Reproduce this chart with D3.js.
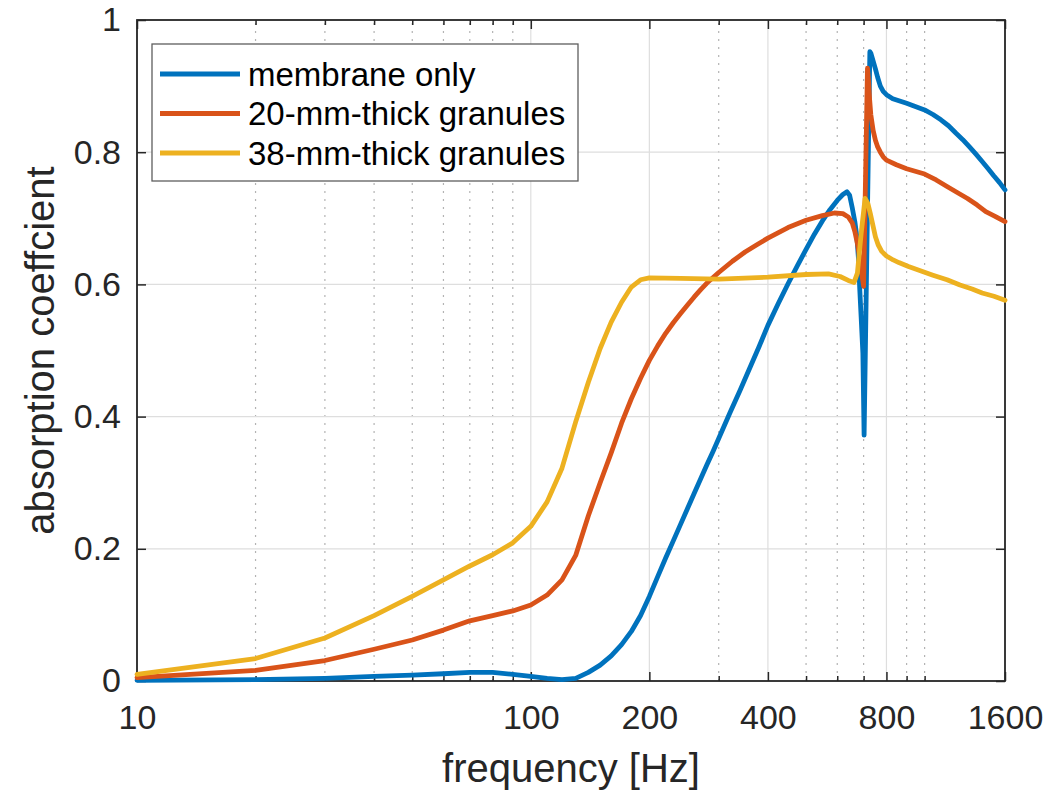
<!DOCTYPE html>
<html>
<head>
<meta charset="utf-8">
<script src="https://cdn.jsdelivr.net/npm/d3@7"></script>
<style>
  body { margin: 0; background: #fff; }
  text { font-family: "Liberation Sans", Arial, Helvetica, sans-serif; }
</style>
</head>
<body>
<div id="chart"></div>
<script>
// membrane only
const freqMembrane = [10, 20, 30, 40, 50, 60, 70, 80, 90, 100, 110, 120, 130, 140, 150, 160, 170, 180, 190, 200,
  210, 220, 230, 240, 250, 260, 270, 280, 290, 300, 320, 340, 360, 380, 400, 425, 450, 475, 500, 525,
  550, 575, 600, 620, 635, 645, 655, 665, 673, 680, 684, 690, 697, 702, 726, 730, 740, 750, 760, 772,
  785, 800, 830, 900, 1000, 1050, 1100, 1150, 1200, 1250, 1300, 1350, 1400, 1450, 1500, 1550, 1600];
const alphaMembrane = [0.001, 0.002, 0.004, 0.007, 0.009, 0.011, 0.013, 0.013, 0.010, 0.007, 0.004, 0.002, 0.004, 0.013, 0.024, 0.038, 0.055, 0.075, 0.099, 0.128,
  0.158, 0.186, 0.212, 0.237, 0.261, 0.284, 0.306, 0.327, 0.347, 0.367, 0.405, 0.440, 0.474, 0.506, 0.538, 0.571, 0.601, 0.628, 0.653, 0.676,
  0.696, 0.713, 0.727, 0.736, 0.740, 0.735, 0.716, 0.695, 0.672, 0.635, 0.596, 0.550, 0.496, 0.372, 0.952, 0.950, 0.938, 0.926, 0.913, 0.900,
  0.892, 0.887, 0.881, 0.874, 0.864, 0.857, 0.849, 0.840, 0.829, 0.819, 0.808, 0.797, 0.786, 0.775, 0.764, 0.754, 0.743];

// 20-mm-thick granules
const freq20mm = [10, 20, 30, 40, 50, 60, 70, 80, 90, 100, 110, 120, 130, 140, 150, 160, 170, 180, 190, 200,
  210, 220, 230, 240, 250, 260, 270, 280, 300, 325, 350, 375, 400, 450, 500, 550, 590, 620, 640, 655,
  665, 675, 685, 693, 700, 716, 720, 725, 730, 740, 750, 760, 772, 785, 800, 848, 900, 1000, 1070, 1140,
  1210, 1285, 1360, 1430, 1510, 1600];
const alpha20mm = [0.005, 0.016, 0.031, 0.048, 0.062, 0.077, 0.091, 0.099, 0.106, 0.115, 0.130, 0.153, 0.190, 0.250, 0.300, 0.345, 0.390, 0.427, 0.458, 0.485,
  0.507, 0.526, 0.542, 0.556, 0.569, 0.581, 0.592, 0.602, 0.618, 0.635, 0.649, 0.660, 0.670, 0.686, 0.697, 0.704, 0.708, 0.707, 0.702, 0.693,
  0.680, 0.662, 0.638, 0.615, 0.597, 0.927, 0.910, 0.880, 0.857, 0.833, 0.818, 0.808, 0.800, 0.793, 0.788, 0.781, 0.775, 0.767, 0.758, 0.748,
  0.739, 0.730, 0.720, 0.710, 0.703, 0.695];

// 38-mm-thick granules
const freq38mm = [10, 20, 30, 40, 50, 60, 70, 80, 90, 100, 110, 120, 130, 140, 150, 160, 170, 180, 190, 200,
  240, 300, 400, 500, 570, 610, 640, 662, 675, 690, 706, 718, 728, 740, 750, 762, 778, 800, 832, 860,
  910, 1050, 1140, 1230, 1320, 1400, 1500, 1600];
const alpha38mm = [0.010, 0.034, 0.065, 0.099, 0.128, 0.153, 0.174, 0.191, 0.209, 0.234, 0.271, 0.322, 0.392, 0.452, 0.503, 0.543, 0.573, 0.596, 0.607, 0.610,
  0.609, 0.608, 0.611, 0.615, 0.616, 0.612, 0.606, 0.603, 0.617, 0.677, 0.730, 0.722, 0.707, 0.688, 0.672, 0.660, 0.650, 0.643, 0.637, 0.633,
  0.627, 0.614, 0.607, 0.599, 0.593, 0.587, 0.582, 0.576];

const seriesNames = ['membrane only', '20-mm-thick granules', '38-mm-thick granules'];
const seriesColors = ['#0072BD', '#D95319', '#EDB120'];
const xTickValues = [10, 100, 200, 400, 800, 1600];
const yTickValues = [0, 0.2, 0.4, 0.6, 0.8, 1];

const width = 1064, height = 795;
const margin = { top: 20, right: 59, bottom: 114, left: 137 };
const axisColor = '#262626';

const svg = d3.select('#chart')
  .append('svg')
    .attr('width', width)
    .attr('height', height);

const x = d3.scaleLog()
  .domain([10, 1600])
  .range([margin.left, width - margin.right]);

const y = d3.scaleLinear()
  .domain([0, 1])
  .range([height - margin.bottom, margin.top]);

const x0 = x.range()[0], x1 = x.range()[1];
const y0 = y.range()[0], y1 = y.range()[1];

const minorTicks = x.ticks().filter(t => !xTickValues.includes(t));

// grid
const grid = svg.append('g');
grid.selectAll('.minor')
  .data(minorTicks)
  .enter().append('line')
    .attr('x1', d => x(d)).attr('x2', d => x(d))
    .attr('y1', y0).attr('y2', y1)
    .attr('stroke', '#b3b3b3')
    .attr('stroke-width', 1.2)
    .attr('stroke-dasharray', '2,6');
grid.selectAll('.vmajor')
  .data(xTickValues)
  .enter().append('line')
    .attr('x1', d => x(d)).attr('x2', d => x(d))
    .attr('y1', y0).attr('y2', y1)
    .attr('stroke', '#dedede')
    .attr('stroke-width', 1.2);
grid.selectAll('.hmajor')
  .data(yTickValues)
  .enter().append('line')
    .attr('x1', x0).attr('x2', x1)
    .attr('y1', d => y(d)).attr('y2', d => y(d))
    .attr('stroke', '#dedede')
    .attr('stroke-width', 1.2);

// axes
const styleAxis = (g) => {
  g.select('.domain').remove();
  g.selectAll('.tick line').attr('stroke', axisColor).attr('stroke-width', 1.5);
  g.selectAll('.tick text')
    .attr('fill', axisColor)
    .attr('font-size', 34);
};

svg.append('g')
  .attr('transform', `translate(0,${y0})`)
  .call(d3.axisBottom(x).tickValues(xTickValues).tickFormat(d3.format('d'))
    .tickSizeInner(-9).tickSizeOuter(0).tickPadding(24))
  .call(styleAxis);

svg.append('g')
  .attr('transform', `translate(0,${y0})`)
  .call(d3.axisBottom(x).tickValues(minorTicks).tickFormat('')
    .tickSizeInner(-5).tickSizeOuter(0))
  .call(styleAxis);

svg.append('g')
  .attr('transform', `translate(0,${y1})`)
  .call(d3.axisTop(x).tickValues(xTickValues).tickFormat('')
    .tickSizeInner(-9).tickSizeOuter(0))
  .call(styleAxis);

svg.append('g')
  .attr('transform', `translate(0,${y1})`)
  .call(d3.axisTop(x).tickValues(minorTicks).tickFormat('')
    .tickSizeInner(-5).tickSizeOuter(0))
  .call(styleAxis);

svg.append('g')
  .attr('transform', `translate(${x0},0)`)
  .call(d3.axisLeft(y).tickValues(yTickValues).tickFormat(d3.format('~g'))
    .tickSizeInner(-9).tickSizeOuter(0).tickPadding(16))
  .call(styleAxis);

svg.append('g')
  .attr('transform', `translate(${x1},0)`)
  .call(d3.axisRight(y).tickValues(yTickValues).tickFormat('')
    .tickSizeInner(-9).tickSizeOuter(0))
  .call(styleAxis);

svg.append('rect')
  .attr('x', x0).attr('y', y1)
  .attr('width', x1 - x0).attr('height', y0 - y1)
  .attr('fill', 'none')
  .attr('stroke', axisColor)
  .attr('stroke-width', 1.8);

// curves
const series = [
  { freq: freqMembrane, alpha: alphaMembrane },
  { freq: freq20mm, alpha: alpha20mm },
  { freq: freq38mm, alpha: alpha38mm },
].map((s, i) => ({
  name: seriesNames[i],
  color: seriesColors[i],
  values: s.freq.map((f, j) => ({ f, a: s.alpha[j] })),
}));

const line = d3.line()
  .x(d => x(d.f))
  .y(d => y(d.a));

svg.selectAll('.curve')
  .data(series)
  .enter().append('path')
    .attr('class', 'curve')
    .attr('d', d => line(d.values))
    .attr('fill', 'none')
    .attr('stroke', d => d.color)
    .attr('stroke-width', 4.8)
    .attr('stroke-linejoin', 'round')
    .attr('stroke-linecap', 'round');

// axis labels
svg.append('text')
  .attr('x', (x0 + x1) / 2)
  .attr('y', 782)
  .attr('text-anchor', 'middle')
  .attr('font-size', 40)
  .attr('fill', axisColor)
  .text('frequency [Hz]');

svg.append('text')
  .attr('transform', `translate(54,${(y0 + y1) / 2}) rotate(-90)`)
  .attr('text-anchor', 'middle')
  .attr('font-size', 40)
  .attr('fill', axisColor)
  .text('absorption coeffcient');

// legend
const legend = svg.append('g');
legend.append('rect')
  .attr('x', 152).attr('y', 44)
  .attr('width', 426).attr('height', 137)
  .attr('fill', '#fff')
  .attr('stroke', '#5e5e5e')
  .attr('stroke-width', 1.3);

const items = legend.selectAll('.item')
  .data(series)
  .enter().append('g')
    .attr('transform', (d, i) => `translate(0,${74 + i * 39.5})`);

items.append('line')
  .attr('x1', 160).attr('x2', 240)
  .attr('stroke', d => d.color)
  .attr('stroke-width', 4.8);

items.append('text')
  .attr('x', 248)
  .attr('dy', '0.35em')
  .attr('font-size', 33)
  .attr('fill', '#000')
  .text(d => d.name);
</script>
</body>
</html>
